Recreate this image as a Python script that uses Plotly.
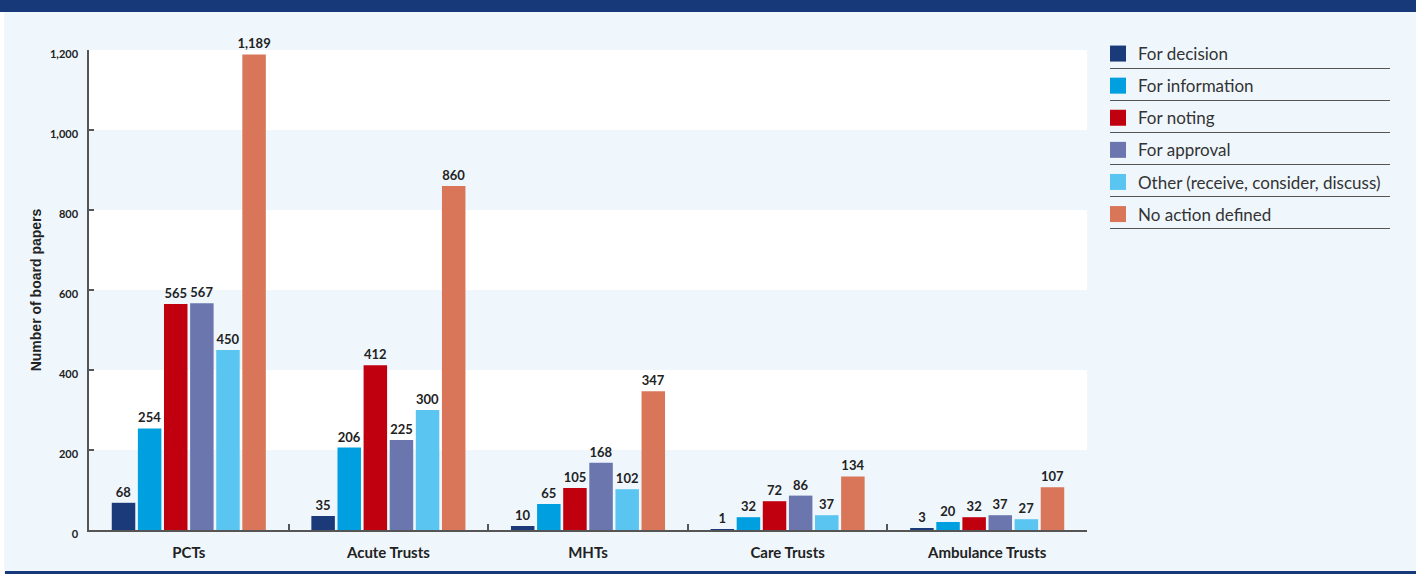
import plotly.graph_objects as go

categories = ["PCTs", "Acute Trusts", "MHTs", "Care Trusts", "Ambulance Trusts"]
series_names = ["For decision", "For information", "For noting", "For approval",
                "Other (receive, consider, discuss)", "No action defined"]
for_decision = [68, 35, 10, 1, 3]
for_information = [254, 206, 65, 32, 20]
for_noting = [565, 412, 105, 72, 32]
for_approval = [567, 225, 168, 86, 37]
other = [450, 300, 102, 37, 27]
no_action = [1189, 860, 347, 134, 107]
series_values = [for_decision, for_information, for_noting, for_approval, other, no_action]
colors = ["#1B3A7A", "#009FDF", "#C0000F", "#6B76AE", "#5BC5F2", "#D9765A"]
y_ticks = [0, 200, 400, 600, 800, 1000, 1200]

FONT = "Lato"
BG = "#EFF7FD"
W, H = 1416, 574
L, R, T, B = 89, 1087, 50, 530

def px(x):
    return (x - L) / (R - L)

def py(y):
    return (B - y) / (B - T)

fig = go.Figure()
for name, vals, col in zip(series_names, series_values, colors):
    fig.add_trace(go.Bar(
        x=categories, y=vals, name=name, marker=dict(color=col, line=dict(width=0)),
        text=[f"{v:,}" for v in vals], textposition="outside", cliponaxis=False,
        constraintext="none",
        textfont=dict(family=FONT, size=13, color="#222222", weight="bold"),
        showlegend=False, hoverinfo="skip",
    ))
for i, (name, col) in enumerate(zip(series_names, colors)):
    fig.add_trace(go.Scatter(
        x=[None], y=[None], mode="markers", name=name, legendgroup=f"g{i}",
        marker=dict(symbol="square", size=16, color=col, line=dict(width=0)),
        showlegend=True,
    ))

shapes = []
# alternating bands
for i in range(0, len(y_ticks) - 1, 2):
    shapes.append(dict(type="rect", xref="paper", yref="y", x0=0, x1=1,
                       y0=y_ticks[i], y1=y_ticks[i + 1], fillcolor=BG,
                       line=dict(width=0), layer="below"))
# header and footer bars
shapes.append(dict(type="rect", xref="paper", yref="paper", x0=px(0), x1=px(W),
                   y0=py(12), y1=py(-2), fillcolor="#17397A", line=dict(width=0)))
shapes.append(dict(type="rect", xref="paper", yref="paper", x0=px(5), x1=px(W),
                   y0=py(571), y1=py(576), fillcolor="#17397A", line=dict(width=0)))
shapes.append(dict(type="rect", xref="paper", yref="paper", x0=px(-2), x1=px(4),
                   y0=py(12), y1=py(576), fillcolor="#FFFFFF", line=dict(width=0)))
# legend separators
for k in range(len(series_names)):
    yy = 68.5 + 32 * k
    shapes.append(dict(type="line", xref="paper", yref="paper", x0=px(1110), x1=px(1390),
                       y0=py(yy), y1=py(yy), line=dict(color="#555555", width=1.2)))

fig.update_layout(
    width=W, height=H,
    margin=dict(l=L, r=W - R, t=T, b=H - B, pad=0),
    paper_bgcolor=BG, plot_bgcolor="#FFFFFF",
    barmode="group", bargap=0.215, bargroupgap=0.1,
    font=dict(family=FONT, color="#222222"),
    shapes=shapes,
    legend=dict(x=px(1098), y=py(36), xanchor="left", yanchor="top",
                font=dict(family=FONT, size=17, color="#333333"),
                tracegroupgap=7, bgcolor="rgba(0,0,0,0)", itemclick=False),
    xaxis=dict(type="category", showline=True, linecolor="#555555", linewidth=1.5,
               ticks="inside", tickson="boundaries", ticklen=6, tickcolor="#555555",
               tickwidth=1.5, showgrid=False, ticklabelstandoff=8,
               tickfont=dict(family=FONT, size=15, color="#222222", weight="bold")),
    yaxis=dict(range=[0, 1200], tickvals=y_ticks, tickformat=",", showline=True,
               linecolor="#555555", linewidth=1.5, ticks="inside", ticklen=5,
               tickcolor="#555555", tickwidth=1.5, showgrid=False, zeroline=False,
               ticklabelstandoff=7, ticklabelshift=4,
               tickfont=dict(family=FONT, size=11, color="#222222", weight="bold"),
               title=dict(text="Number of board papers", standoff=5,
                          font=dict(family="Liberation Sans", size=14, color="#222222",
                                    weight="bold"))),
)

fig.write_html("out.html", config={"displayModeBar": False},
               post_script="document.body.style.margin='0';document.body.style.padding='0';")
